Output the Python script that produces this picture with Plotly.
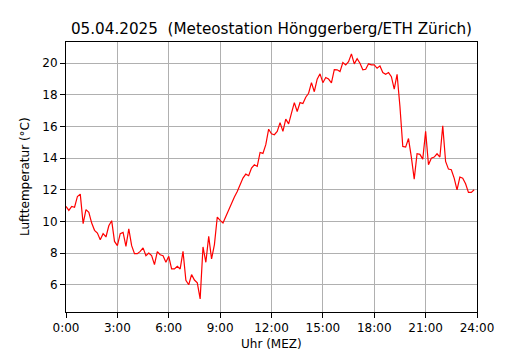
import plotly.graph_objects as go

# 10-minute readings, 0:00 to 23:50
temperature = [
    10.95, 10.7, 10.95, 10.9, 11.58, 11.73, 9.86, 10.75, 10.58, 9.9,
    9.44, 9.27, 8.85, 9.23, 9.02, 9.73, 10.05, 8.74, 8.47, 9.23,
    9.31, 8.43, 9.53, 8.47, 7.97, 7.97, 8.11, 8.33, 7.84, 8.0,
    7.84, 7.27, 8.1, 7.9, 7.84, 7.42, 7.8, 7.0, 7.0, 7.17,
    7.0, 8.11, 6.28, 6.0, 6.64, 6.3, 6.12, 5.11, 8.39, 7.42,
    9.06, 7.63, 8.54, 10.28, 10.07, 9.9, 10.32, 10.74, 11.2, 11.55,
    11.9, 12.32, 12.74, 12.99, 12.89, 13.37, 13.58, 13.48, 14.36, 14.3,
    14.85, 15.83, 15.54, 15.48, 15.69, 16.25, 15.69, 16.47, 16.17, 16.85,
    17.51, 16.95, 17.51, 17.45, 17.85, 18.1, 18.77, 18.2, 18.99, 19.33,
    18.77, 19.1, 19.0, 18.75, 19.6, 19.58, 19.47, 20.04, 19.89, 20.1,
    20.59, 19.96, 20.29, 20.0, 19.58, 19.62, 19.96, 19.9, 19.89, 19.68,
    19.83, 19.41, 19.3, 19.41, 19.15, 18.36, 19.3, 17.26, 14.74, 14.7,
    15.24, 14.07, 12.68, 14.28, 14.24, 13.94, 15.69, 13.58, 14.0, 14.07,
    14.28, 14.07, 16.04, 13.79, 13.31, 13.27, 12.74, 12.0, 12.81, 12.74,
    12.38, 11.84, 11.84, 12.0,
]
minutes = [10 * i for i in range(len(temperature))]
hours = [m / 60 for m in minutes]

tick_hours = [0, 3, 6, 9, 12, 15, 18, 21, 24]
tick_labels = ["0:00", "3:00", "6:00", "9:00", "12:00", "15:00", "18:00", "21:00", "24:00"]
y_ticks = [6, 8, 10, 12, 14, 16, 18, 20]

title_text = "05.04.2025  (Meteostation Hönggerberg/ETH Zürich)"
x_title = "Uhr (MEZ)"
y_title = "Lufttemperatur (°C)"

FONT = "DejaVu Sans"

fig = go.Figure()
fig.add_trace(go.Scatter(x=hours, y=temperature, mode="lines",
                         line=dict(color="#ff0000", width=1.2), showlegend=False))

axis_common = dict(showline=True, linecolor="black", linewidth=1, mirror=True,
                   ticks="outside", ticklen=5, tickcolor="black", tickwidth=1,
                   showgrid=True, gridcolor="#b0b0b0", gridwidth=1, zeroline=False,
                   automargin=False,
                   tickfont=dict(family=FONT, size=12, color="black"))

fig.update_xaxes(range=[0, 24], tickvals=tick_hours, ticktext=tick_labels, **axis_common)
fig.update_yaxes(range=[4.28, 21.34], tickvals=y_ticks, **axis_common)

# page has 8px body margin: figure is sized/margined to compensate
W, H = 522, 342
L, R, T, B = 58, 53, 34, 38
plot_w = W - L - R
plot_h = H - T - B

fig.add_annotation(text=x_title, xref="paper", yref="paper",
                   x=0.5, y=-(336 - (H - B)) / plot_h, xanchor="center", yanchor="middle",
                   showarrow=False, font=dict(family=FONT, size=12, color="black"))
fig.add_annotation(text=y_title, xref="paper", yref="paper", textangle=-90,
                   x=(17 - L) / plot_w, y=0.5, xanchor="center", yanchor="middle",
                   showarrow=False, font=dict(family=FONT, size=12, color="black"))

fig.update_layout(
    width=W, height=H,
    margin=dict(l=L, r=R, t=T, b=B),
    paper_bgcolor="white", plot_bgcolor="white",
    title=dict(text=title_text,
               font=dict(family=FONT, size=15.2, color="black"),
               x=(L + plot_w / 2) / W, xanchor="center", y=1 - 21 / H, yanchor="middle"),
)

fig.write_html("out.html")
